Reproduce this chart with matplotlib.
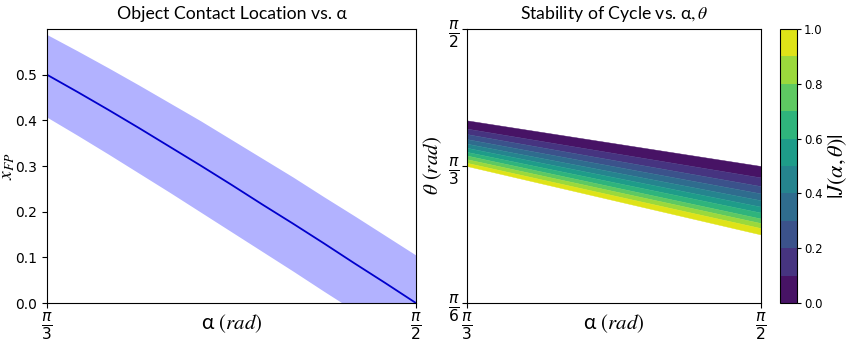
import numpy as np
import matplotlib.pyplot as plt
from matplotlib.colors import BoundaryNorm, ListedColormap
from matplotlib.cm import ScalarMappable

# левый график: точки контакта
alpha_deg = [60, 62.5, 65, 67.5, 70, 72.5, 75, 77.5, 80, 82.5, 85, 87.5, 90]
x_fp = [0.500, 0.462, 0.423, 0.383, 0.342, 0.301, 0.259, 0.216, 0.174, 0.131, 0.087, 0.044, 0.000]
x_fp_upper = [0.588, 0.552, 0.515, 0.477, 0.438, 0.399, 0.358, 0.317, 0.276, 0.233, 0.191, 0.148, 0.105]
x_fp_lower = [0.407, 0.367, 0.326, 0.284, 0.242, 0.199, 0.156, 0.113, 0.070, 0.026, -0.017, -0.061, -0.105]

# правый график: границы уровней |J| (в градусах) на краях alpha = pi/3 и pi/2
levels = [0.0, 0.1, 0.2, 0.3, 0.4, 0.5, 0.6, 0.7, 0.8, 0.9, 1.0]
theta_left = [70.0, 68.2, 67.0, 65.9, 64.9, 64.0, 63.1, 62.3, 61.5, 60.7, 60.0]
theta_right = [60.0, 57.5, 55.6, 54.0, 52.5, 51.1, 49.8, 48.5, 47.5, 46.4, 45.0]
alpha_ends = [60, 90]

fig = plt.figure(figsize=(8.5, 3.45), dpi=100)
title_font = 'Lato'
lab = dict(fontsize=15, math_fontfamily='stix')
frac_size = 16

# Object Contact Location
ax1 = fig.add_axes([0.0553, 0.1217, 0.434, 0.794])
a = np.radians(alpha_deg)
ax1.fill_between(a, x_fp_lower, x_fp_upper, color='b', alpha=0.3, linewidth=0)
ax1.plot(a, x_fp, color='#0000cc', linewidth=1.3)
ax1.set_xlim(np.pi / 3, np.pi / 2)
ax1.set_ylim(0, 0.6)
ax1.set_yticks([0.0, 0.1, 0.2, 0.3, 0.4, 0.5])
ax1.set_xticks([np.pi / 3, np.pi / 2])
ax1.set_xticklabels([r'$\frac{\pi}{3}$', r'$\frac{\pi}{2}$'], fontsize=frac_size)
ax1.tick_params(axis='x', pad=2)
ax1.tick_params(axis='y', labelsize=10)
ax1.set_xlabel(r'α $(rad)$', family=title_font, **lab)
ax1.xaxis.set_label_coords(0.5, -0.035)
ax1.set_ylabel(r'$x_{FP}$', fontsize=14, math_fontfamily='stix')
ax1.yaxis.set_label_coords(-0.08, 0.5)
ax1.set_title('Object Contact Location vs. α', fontsize=12.7, family=title_font, pad=7)

# Stability of Cycle
ax2 = fig.add_axes([0.5495, 0.1217, 0.3459, 0.794])
cmap = ListedColormap(plt.get_cmap('viridis')((np.arange(len(levels) - 1) + 0.5) / (len(levels) - 1)))
norm = BoundaryNorm(levels, cmap.N)
ae = np.radians(alpha_ends)
for i in range(len(levels) - 1):
    top = np.radians([theta_left[i], theta_right[i]])
    bot = np.radians([theta_left[i + 1], theta_right[i + 1]])
    ax2.fill_between(ae, bot, top, color=cmap(i), linewidth=0.3, edgecolor=cmap(i))
ax2.set_xlim(np.pi / 3, np.pi / 2)
ax2.set_ylim(np.pi / 6, np.pi / 2)
ax2.set_xticks([np.pi / 3, np.pi / 2])
ax2.set_xticklabels([r'$\frac{\pi}{3}$', r'$\frac{\pi}{2}$'], fontsize=frac_size)
ax2.set_yticks([np.pi / 6, np.pi / 3, np.pi / 2])
ax2.set_yticklabels([r'$\frac{\pi}{6}$', r'$\frac{\pi}{3}$', r'$\frac{\pi}{2}$'], fontsize=frac_size)
ax2.tick_params(pad=2)
ax2.set_xlabel(r'α $(rad)$', family=title_font, **lab)
ax2.xaxis.set_label_coords(0.5, -0.035)
ax2.set_ylabel(r'$\theta\ (rad)$', **lab)
ax2.yaxis.set_label_coords(-0.08, 0.5)
ax2.set_title(r'Stability of Cycle vs. α$,\theta$', fontsize=12.7, family=title_font,
              math_fontfamily='stix', pad=7)

cax = fig.add_axes([0.9177, 0.1217, 0.0200, 0.794])
sm = ScalarMappable(norm=norm, cmap=cmap)
cb = fig.colorbar(sm, cax=cax, ticks=[0.0, 0.2, 0.4, 0.6, 0.8, 1.0])
cb.minorticks_off()
cb.ax.tick_params(labelsize=8.5, length=3, pad=2)
cb.set_label(r'$|J(\alpha,\theta)|$', fontsize=16, math_fontfamily='stix')
cb.ax.yaxis.set_label_coords(2.75, 0.5)

fig.savefig('out.png', dpi=100)
